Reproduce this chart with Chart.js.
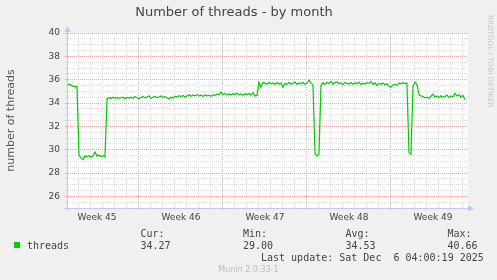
<!DOCTYPE html>
<html>
<head>
<meta charset="utf-8">
<title>Number of threads - by month</title>
<script src="https://cdn.jsdelivr.net/npm/chart.js@4.4.1/dist/chart.umd.min.js"></script>
<style>
  html, body { margin: 0; padding: 0; background: #f0f0f0; }
  canvas { display: block; }
</style>
</head>
<body>
<canvas id="chart" width="497" height="280"></canvas>
<script>
// samples, one every 4 hours (day 0 = left edge of the plot)
const stepDays = 1 / 6;
const threads = [
  35.50, 35.62, 35.55, 35.45, 35.40, 35.42, 29.50, 29.30, 29.15, 29.45,
  29.40, 29.50, 29.35, 29.45, 29.80, 29.45, 29.55, 29.40, 29.50, 29.40,
  34.35, 34.45, 34.40, 34.50, 34.42, 34.48, 34.40, 34.45, 34.50, 34.38,
  34.47, 34.42, 34.50, 34.40, 34.55, 34.45, 34.40, 34.48, 34.55, 34.45,
  34.50, 34.62, 34.40, 34.50, 34.58, 34.45, 34.52, 34.60, 34.48, 34.55,
  34.45, 34.35, 34.50, 34.42, 34.58, 34.50, 34.62, 34.55, 34.65, 34.50,
  34.60, 34.70, 34.58, 34.68, 34.62, 34.72, 34.60, 34.68, 34.55, 34.70,
  34.62, 34.66, 34.58, 34.70, 34.65, 34.78, 34.70, 34.92, 34.75, 34.82,
  34.70, 34.78, 34.68, 34.80, 34.72, 34.85, 34.70, 34.78, 34.66, 34.80,
  34.72, 34.82, 34.68, 34.90, 34.60, 34.65, 35.80, 35.35, 35.75, 35.70,
  35.60, 35.78, 35.65, 35.72, 35.58, 35.75, 35.62, 35.70, 35.35, 35.68,
  35.60, 35.75, 35.62, 35.70, 35.80, 35.60, 35.72, 35.65, 35.78, 35.60,
  35.68, 35.95, 35.70, 35.55, 29.70, 29.45, 29.60, 35.50, 35.72, 35.60,
  35.78, 35.65, 35.85, 35.62, 35.75, 35.80, 35.66, 35.72, 35.55, 35.78,
  35.68, 35.62, 35.75, 35.60, 35.72, 35.65, 35.80, 35.58, 35.70, 35.62,
  35.75, 35.68, 35.85, 35.60, 35.72, 35.50, 35.68, 35.60, 35.72, 35.55,
  35.65, 35.45, 35.35, 35.55, 35.62, 35.50, 35.72, 35.65, 35.75, 35.68,
  35.70, 29.75, 29.60, 35.40, 35.80, 35.60, 34.70, 34.62, 34.55, 34.45,
  34.50, 34.40, 34.58, 34.75, 34.52, 34.60, 34.45, 34.62, 34.50, 34.55,
  34.68, 34.48, 34.60, 34.52, 34.82, 34.60, 34.72, 34.50, 34.65, 34.27,
];

// axes
const xMaxDay = 33.42;
const weekLabels = ["Week 45", "Week 46", "Week 47", "Week 48", "Week 49"];
const yMin = 25;
const yMax = 40;

// legend
const seriesName = "threads";
const statNames = ["Cur:", "Min:", "Avg:", "Max:"];
const statValues = ["34.27", "29.00", "34.53", "40.66"];
const lastUpdate = "Last update: Sat Dec  6 04:00:19 2025";
const version = "Munin 2.0.33-1";

const lineColor = "#00cc00";
const textColor = "#444444";
const minorGrid = "#dcdcdc";
const majorGrid = "#eba3a3";
const axisColor = "#c6c6f6";
const clear = "rgba(0,0,0,0)";

// grid steps: half days on x (labels sit mid-week), half units on y
const xGrid = [];
for (let d = 0; d <= 33; d += 0.5) xGrid.push(d);
const yGrid = [];
for (let v = yMin; v <= yMax; v += 0.5) yGrid.push(v);

const tickValue = (c) => (c.tick ? c.tick.value : 0);

// background, arrows and the munin legend block
const muninFrame = {
  id: "muninFrame",
  beforeDraw(chart) {
    const { ctx, chartArea: a } = chart;
    ctx.save();
    ctx.fillStyle = "#f0f0f0";
    ctx.fillRect(0, 0, chart.width, chart.height);
    ctx.fillStyle = "#ffffff";
    ctx.fillRect(a.left, a.top, a.right - a.left, a.bottom - a.top);
    ctx.restore();
  },
  afterDraw(chart) {
    const { ctx, chartArea: a } = chart;
    const lx = Math.round(a.left) + 0.5;
    const by = Math.round(a.bottom) + 0.5;
    ctx.save();

    // axis lines with arrow heads
    ctx.strokeStyle = axisColor;
    ctx.fillStyle = axisColor;
    ctx.lineWidth = 1;
    ctx.beginPath();
    ctx.moveTo(lx, a.bottom + 3);
    ctx.lineTo(lx, a.top - 2);
    ctx.moveTo(a.left - 3, by);
    ctx.lineTo(a.right + 1, by);
    ctx.stroke();
    ctx.beginPath();
    ctx.moveTo(lx - 3, a.top - 1);
    ctx.lineTo(lx + 3, a.top - 1);
    ctx.lineTo(lx, a.top - 7);
    ctx.closePath();
    ctx.fill();
    ctx.beginPath();
    ctx.moveTo(a.right, by - 3);
    ctx.lineTo(a.right, by + 3);
    ctx.lineTo(a.right + 6, by);
    ctx.closePath();
    ctx.fill();

    // legend
    ctx.textBaseline = "alphabetic";
    ctx.textAlign = "left";
    ctx.font = '10px "DejaVu Sans Mono"';
    ctx.fillStyle = lineColor;
    ctx.fillRect(14, 242, 6, 6);
    ctx.fillStyle = textColor;
    ctx.fillText(seriesName, 27, 249);
    const colX = [140.5, 243, 345.5, 447.5];
    statNames.forEach((n, i) => {
      ctx.fillText(n, colX[i], 237);
      ctx.fillText(statValues[i], colX[i], 249);
    });
    ctx.fillText(lastUpdate, 261, 260.5);

    ctx.textAlign = "center";
    ctx.font = '8px "DejaVu Sans"';
    ctx.fillStyle = "#bdbdbd";
    ctx.fillText(version, chart.width / 2, 272);

    // rrdtool watermark
    ctx.translate(490, 15);
    ctx.rotate(Math.PI / 2);
    ctx.textAlign = "left";
    ctx.textBaseline = "middle";
    ctx.font = '7.2px "DejaVu Sans"';
    ctx.fillStyle = "#c8c8c8";
    ctx.fillText("RRDTOOL / TOBI OETIKER", 0, 0);
    ctx.restore();
  },
};

Chart.defaults.font.family = "DejaVu Sans";

new Chart(document.getElementById("chart"), {
  type: "line",
  data: {
    datasets: [
      {
        label: seriesName,
        data: threads.map((v, i) => ({ x: i * stepDays, y: v })),
        borderColor: lineColor,
        borderWidth: 1.2,
        pointRadius: 0,
        tension: 0,
        fill: false,
      },
    ],
  },
  options: {
    responsive: false,
    animation: false,
    devicePixelRatio: 1,
    layout: { padding: { top: 0, right: 29, bottom: 0, left: 0 } },
    plugins: {
      legend: { display: false },
      tooltip: { enabled: false },
      title: {
        display: true,
        text: "Number of threads - by month",
        color: textColor,
        font: { family: "DejaVu Sans", size: 13, weight: "normal" },
        padding: { top: 5, bottom: 12.4 },
      },
    },
    scales: {
      x: {
        type: "linear",
        bounds: "data",
        min: 0,
        max: xMaxDay,
        afterBuildTicks: (s) => {
          s.ticks = xGrid.map((v) => ({ value: v }));
        },
        afterFit: (s) => {
          s.height = 72;
        },
        ticks: {
          autoSkip: false,
          maxRotation: 0,
          minRotation: 0,
          padding: 2,
          color: textColor,
          font: { size: 9 },
          callback: (v) => {
            const w = (v - 2.5) / 7;
            return Number.isInteger(w) && weekLabels[w] ? weekLabels[w] : "";
          },
        },
        grid: {
          lineWidth: 1,
          tickLength: 2,
          color: (c) => {
            const v = tickValue(c);
            if (!Number.isInteger(v)) return clear;
            return (v + 1) % 7 === 0 ? majorGrid : minorGrid;
          },
        },
        border: { color: axisColor, dash: [1, 1] },
      },
      y: {
        min: yMin,
        max: yMax,
        afterBuildTicks: (s) => {
          s.ticks = yGrid.map((v) => ({ value: v }));
        },
        afterFit: (s) => {
          s.width = 67;
        },
        title: {
          display: true,
          text: "number of threads",
          color: "#555555",
          font: { size: 11 },
          padding: { top: 5, bottom: 0 },
        },
        ticks: {
          autoSkip: false,
          padding: 5,
          color: textColor,
          font: { size: 9 },
          callback: (v) => (v % 2 === 0 ? String(v) : ""),
        },
        grid: {
          lineWidth: 1,
          tickLength: 2,
          color: (c) => (tickValue(c) % 2 === 0 ? majorGrid : minorGrid),
        },
        border: { color: axisColor, dash: [1, 1] },
      },
    },
  },
  plugins: [muninFrame],
});
</script>
</body>
</html>
